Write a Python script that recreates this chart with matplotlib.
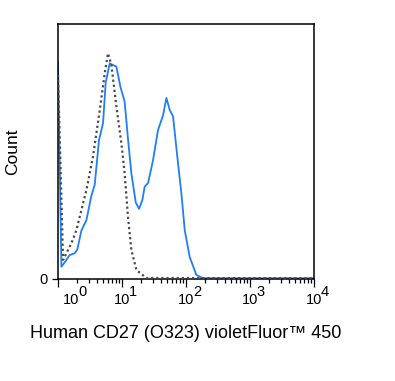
import matplotlib
matplotlib.use("Agg")
import matplotlib.pyplot as plt
import matplotlib.transforms as mtransforms
from matplotlib.ticker import LogLocator, NullFormatter
import numpy as np

plt.rcParams["font.family"] = ["Liberation Sans", "DejaVu Sans"]

# stained sample (blue, solid)
stained_x = [1.0, 1.13, 1.27, 1.52, 1.82, 2.0, 2.32, 2.78, 3.31, 3.75, 4.37, 5.05,
             5.56, 6.43, 7.23, 8.17, 9.44, 11.0, 12.4, 14.0, 16.4, 18.5, 20.8,
             22.6, 25.5, 30.5, 36.5, 43.6, 49.4, 55.6, 62.7, 75.0, 84.7, 95.5,
             114, 145, 185, 10000]
stained_y = [85, 4.8, 6.5, 9.4, 10.1, 11.5, 19, 23.1, 32.5, 37, 54.5, 61,
             77, 84.6, 83.9, 83.3, 75.4, 69.5, 55, 41.5, 30, 27.5, 31,
             36.2, 37.6, 46.5, 58.4, 64, 71, 66.3, 63.8, 45.4, 33.6, 19.2,
             8.7, 1.6, 0.3, 0.3]

# isotype / unstained control (gray, dotted)
control_x = [1.0, 1.20, 1.62, 1.94, 2.78, 3.52, 4.48, 5.37, 6.04, 6.82, 8.18,
             9.78, 11.0, 12.4, 14.0, 16.8, 24.0, 10000]
control_y = [80, 7.5, 14, 19.2, 34.9, 48, 66, 80.7, 88.5, 84, 67.6,
             53.2, 41.5, 24.4, 11.4, 3.5, 0.4, 0.3]

decades = [0, 1, 2, 3, 4]

fig = plt.figure(figsize=(3.95, 3.81), dpi=100)
ax = fig.add_axes([58 / 395, 1 - 279 / 381, 256 / 395, 255 / 381])

ax.plot(control_x, control_y, color="#4a4a4a", lw=1.6, ls=(0, (1, 1.3)), zorder=3)
ax.plot(stained_x, stained_y, color="#1f7ff5", lw=1.3, zorder=2)

ax.set_xscale("log")
ax.set_xlim(1, 1e4)
ax.set_ylim(0, 100)

for s in ax.spines.values():
    s.set_linewidth(1.1)
    s.set_color("black")

ax.xaxis.set_major_locator(LogLocator(base=10, numticks=10))
ax.xaxis.set_minor_locator(LogLocator(base=10, subs=np.arange(2, 10), numticks=10))
ax.xaxis.set_major_formatter(NullFormatter())
ax.xaxis.set_minor_formatter(NullFormatter())
ax.tick_params(axis="x", which="major", direction="out", length=5.5, width=0.9)
ax.tick_params(axis="x", which="minor", direction="out", length=3, width=0.9)

ax.set_yticks([0])
ax.set_yticklabels(["0"], fontsize=10.5)
ax.tick_params(axis="y", direction="out", length=4.5, width=0.9, pad=3)

# decade labels: "10" with a full-size raised exponent
trans = mtransforms.blended_transform_factory(ax.transData, ax.transAxes)
for d in decades:
    shift = 9.5 if d == 0 else 0
    t_base = mtransforms.offset_copy(trans, fig=fig, x=shift, y=-15, units="points")
    ax.text(10 ** d, 0, "10", transform=t_base, ha="center", va="center",
            fontsize=10.5, clip_on=False)
    t_exp = mtransforms.offset_copy(trans, fig=fig, x=shift + 5, y=-9.5, units="points")
    ax.text(10 ** d, 0, str(d), transform=t_exp, ha="left", va="center",
            fontsize=10.5, clip_on=False)

ax.set_xlabel("Human CD27 (O323) violetFluor\u2122 450", fontsize=13, labelpad=24)
ax.set_ylabel("Count", fontsize=12.5, labelpad=14)

fig.savefig("out.png", dpi=100)
